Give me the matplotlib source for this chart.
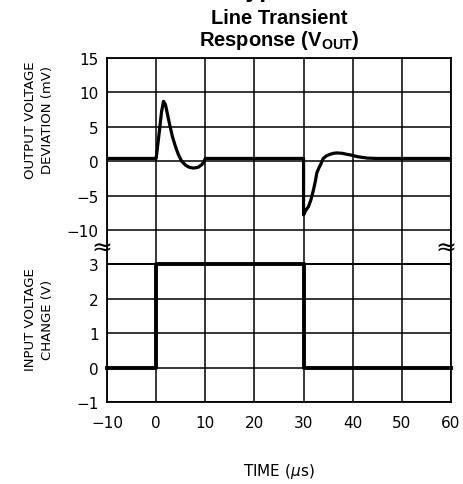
import numpy as np
import matplotlib
matplotlib.use("Agg")
import matplotlib.pyplot as plt

plt.rcParams['font.family'] = ['DejaVu Sans']
plt.rcParams['mathtext.fontset'] = 'custom'
plt.rcParams['mathtext.bf'] = 'Liberation Sans:bold'
plt.rcParams['mathtext.it'] = 'DejaVu Sans:italic'

# output voltage deviation (mV) vs time (us)
t_out = [-10, 0, 0.3, 0.7, 1.1, 1.5, 1.9, 2.7, 3.3, 3.9, 4.5, 5.2, 6.0, 6.8, 7.6,
         8.5, 9.3, 9.7, 10.0, 30.0, 30.0, 30.4, 31.0, 31.5, 32.0, 32.4, 32.7,
         33.1, 33.4, 34.0, 34.7, 35.4, 36.1, 36.8, 37.8, 38.8, 39.6, 41.0,
         43.0, 45.0, 60.0]
v_out = [0.4, 0.4, 2.2, 4.6, 7.2, 8.7, 8.2, 5.5, 3.6, 2.2, 1.0, 0.0, -0.6, -0.9, -1.0,
         -0.9, -0.5, -0.1, 0.4, 0.4, -7.8, -7.2, -6.6, -5.6, -4.2, -2.9, -1.7,
         -1.0, -0.6, 0.4, 0.8, 1.0, 1.15, 1.2, 1.15, 1.0, 0.9, 0.65,
         0.45, 0.4, 0.4]

# input voltage change (V)
t_in = [-10, 0, 0, 30, 30, 60]
v_in = [0, 0, 3, 3, 0, 0]

x_ticks = [-10, 0, 10, 20, 30, 40, 50, 60]
y_ticks_out = [-10, -5, 0, 5, 10, 15]
y_ticks_in = [-1, 0, 1, 2, 3]

W, H = 464, 485
fig = plt.figure(figsize=(W / 100, H / 100), dpi=100)

left, right, top, bot = 107, 451, 59, 403
row = (bot - top) / 10.0
ax1 = fig.add_axes([left / W, 1 - (top + 6 * row) / H, (right - left) / W, 6 * row / H])
ax2 = fig.add_axes([left / W, 1 - bot / H, (right - left) / W, 4 * row / H])

for ax in (ax1, ax2):
    ax.set_xlim(-10, 60)
    ax.set_xticks(x_ticks)
    ax.grid(True, color='black', linewidth=1.1)
    ax.tick_params(length=0, labelsize=11, pad=6)
    for s in ax.spines.values():
        s.set_linewidth(1.3)
    ax.set_axisbelow(True)

ax1.set_ylim(-15, 15)
ax1.set_yticks(y_ticks_out)
ax1.set_yticklabels([str(v).replace('-', '\u2212') for v in y_ticks_out])
ax1.tick_params(labelbottom=False)
ax1.plot(t_out, v_out, color='black', linewidth=2.3, solid_joinstyle='round')

ax2.set_ylim(-1, 3)
ax2.set_yticks(y_ticks_in)
ax2.set_yticklabels([str(v).replace('-', '\u2212') for v in y_ticks_in])
ax2.set_xticklabels([str(v).replace('-', '\u2212') for v in x_ticks])
ax2.tick_params(axis='x', pad=9)
ax2.plot(t_in, v_in, color='black', linewidth=2.8, clip_on=False)

ax2.set_xlabel(r'TIME ($\mu$s)', fontsize=11, labelpad=23)

fig.text(39 / W, 1 - 120 / H, 'OUTPUT VOLTAGE\nDEVIATION (mV)', rotation=90,
         ha='center', va='center', fontsize=9.5, linespacing=1.35)
fig.text(39 / W, 1 - 320 / H, 'INPUT VOLTAGE\nCHANGE (V)', rotation=90,
         ha='center', va='center', fontsize=9.5, linespacing=1.35)

# axis break marks
for xb in (102, 446):
    fig.text(xb / W, 1 - 249 / H, '\u2248', ha='center', va='center', fontsize=18)

fig.text(279 / W, 1 - 19 / H, 'Line Transient', ha='center', va='center',
         fontsize=14.5, fontweight='bold', family='Liberation Sans')
fig.text(279 / W, 1 - 40 / H, r'Response (V$_{\mathbf{OUT}}$)', ha='center', va='center',
         fontsize=14.5, fontweight='bold', family='Liberation Sans')
fig.text(232 / W, 1 + 3 / H, 'Typical Performance Characteristics', ha='left',
         va='baseline', fontsize=18, fontweight='bold', family='Liberation Sans')

fig.savefig('out.png', dpi=100)
